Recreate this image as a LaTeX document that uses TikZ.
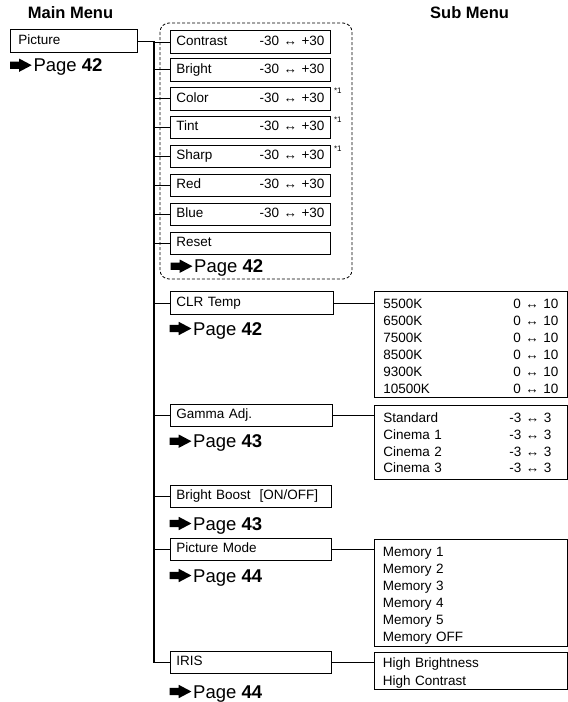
\documentclass[tikz,border=0pt]{standalone}
\usepackage{fontspec}
\setmainfont{Liberation Sans}
\usetikzlibrary{calc}
\newcommand\mnBoxFont{\fontsize{13.5}{17}\selectfont}
\newcommand\mnPageFont{\fontsize{18.5}{20}\selectfont}
\newcommand\mnHeadFont{\fontsize{16.5}{18}\selectfont\bfseries}
\newcommand\mnNoteFont{\fontsize{8}{9}\selectfont}
\tikzset{
  bx/.style={draw, line width=0.9pt, anchor=west, inner xsep=6pt, inner ysep=0pt,
    minimum height=22.5pt, text height=9.7pt, text depth=2.9pt, font=\mnBoxFont},
  lst/.style={draw, line width=0.9pt, anchor=north west, inner xsep=9pt, inner ysep=0pt,
    text width=175pt, text height=14pt, font=\mnBoxFont},
  pglab/.style={anchor=base west, inner sep=0pt, font=\mnPageFont},
  hdr/.style={anchor=base west, inner sep=0pt, font=\mnHeadFont},
  conn/.style={line width=1pt},
  trunkln/.style={line width=1.6pt},
  note/.style={anchor=north west, inner sep=0pt, font=\mnNoteFont},
  pgarrow/.pic={\fill (0,-3.7) -- (9,-3.7) -- (9,-6.7) -- (21.7,0) -- (9,6.7) -- (9,3.7) -- (0,3.7) -- cycle;}
}
\begin{document}
\begin{tikzpicture}[x=1pt,y=-1pt]
\useasboundingbox (0,0) rectangle (568,702);
% headers
\node[hdr] (hmain) at (27.7,18.3) {Main Menu};
\node[hdr] (hsub) at (430,18.3) {Sub Menu};
% main menu
\node[bx, text width=111pt, inner xsep=8pt] (mpic) at (10,41) {Picture};
\node[pglab] (pgA) at (33.3,71.7) {Page \textbf{42}};
\pic at ([shift={(-23.3,-6.5)}]pgA.base west) {pgarrow};
% dashed group
\draw[line width=0.8pt, dash pattern=on 3pt off 2pt, rounded corners=9pt] (160,23) rectangle (352,279);
\node[bx, text width=148pt] (contrast) at (170,42) {Contrast\hfill -30 ↔ +30};
\node[bx, text width=148pt] (bright) at (170,69.7) {Bright\hfill -30 ↔ +30};
\node[bx, text width=148pt] (color) at (170,98.7) {Color\hfill -30 ↔ +30};
\node[bx, text width=148pt] (tint) at (170,127.5) {Tint\hfill -30 ↔ +30};
\node[bx, text width=148pt] (sharp) at (170,156.5) {Sharp\hfill -30 ↔ +30};
\node[bx, text width=148pt] (red) at (170,185.5) {Red\hfill -30 ↔ +30};
\node[bx, text width=148pt] (blue) at (170,214.5) {Blue\hfill -30 ↔ +30};
\node[bx, text width=148pt] (reset) at (170,243.5) {Reset};
\node[note] (n1) at ([shift={(3,1)}]color.north east) {*1};
\node[note] (n2) at ([shift={(3,1)}]tint.north east) {*1};
\node[note] (n3) at ([shift={(3,1)}]sharp.north east) {*1};
\node[pglab] (pgB) at (194,272.7) {Page \textbf{42}};
\pic at ([shift={(-23.3,-6.5)}]pgB.base west) {pgarrow};
% CLR Temp
\node[bx, text width=151pt] (clr) at (170,303) {CLR Temp};
\node[pglab] (pgC) at (193,335) {Page \textbf{42}};
\pic at ([shift={(-23.3,-6.5)}]pgC.base west) {pgarrow};
\node[lst, minimum height=106pt] (clrlist) at (374,291) {5500K\hfill 0 ↔ 10\\6500K\hfill 0 ↔ 10\\7500K\hfill 0 ↔ 10\\8500K\hfill 0 ↔ 10\\9300K\hfill 0 ↔ 10\\10500K\hfill 0 ↔ 10};
% Gamma
\node[bx, text width=150pt] (gamma) at (170,415.5) {Gamma Adj.};
\node[pglab] (pgD) at (193,447.7) {Page \textbf{43}};
\pic at ([shift={(-23.3,-6.5)}]pgD.base west) {pgarrow};
\node[lst, minimum height=74pt, text height=11pt, font=\fontsize{13.5}{16.7}\selectfont] (glist) at (374,405) {Standard\hfill -3 ↔ 3\kern7pt\\Cinema 1\hfill -3 ↔ 3\kern7pt\\Cinema 2\hfill -3 ↔ 3\kern7pt\\Cinema 3\hfill -3 ↔ 3\kern7pt};
% Bright Boost
\node[bx, text width=149pt] (boost) at (170,496.5) {Bright Boost\hspace{9pt}[ON/OFF]};
\node[pglab] (pgE) at (193,530) {Page \textbf{43}};
\pic at ([shift={(-23.3,-6.5)}]pgE.base west) {pgarrow};
% Picture Mode
\node[bx, text width=149pt] (pmode) at (170,549.5) {Picture Mode};
\node[pglab] (pgF) at (193,582) {Page \textbf{44}};
\pic at ([shift={(-23.3,-6.5)}]pgF.base west) {pgarrow};
\node[lst, minimum height=107pt] (memlist) at (373.5,539) {Memory 1\\Memory 2\\Memory 3\\Memory 4\\Memory 5\\Memory OFF};
% IRIS
\node[bx, text width=149pt] (iris) at (170,662.5) {IRIS};
\node[pglab] (pgG) at (193,698) {Page \textbf{44}};
\pic at ([shift={(-23.3,-6.5)}]pgG.base west) {pgarrow};
\node[lst, minimum height=37pt, font=\fontsize{13.5}{17.5}\selectfont] (irislist) at (373.5,652) {High Brightness\\High Contrast};
% connectors
\coordinate (tk) at (154,41);
\draw[conn] (mpic.east) -- (tk);
\draw[trunkln] (tk) -- (tk |- iris.west);
\foreach \n in {contrast,bright,color,tint,sharp,red,blue,reset,clr,gamma,boost,pmode,iris}
  \draw[conn] (tk |- \n.west) -- (\n.west);
\draw[conn] (clr.east) -- (clr.east -| clrlist.west);
\coordinate (gm) at ([xshift=15pt]gamma.east);
\draw[conn] (gamma.east) -- (gm);
\draw[trunkln] (gm) -- (gm -| glist.west);
\draw[conn] (pmode.east) -- (pmode.east -| memlist.west);
\draw[conn] (iris.east) -- (iris.east -| irislist.west);
\end{tikzpicture}
\end{document}
